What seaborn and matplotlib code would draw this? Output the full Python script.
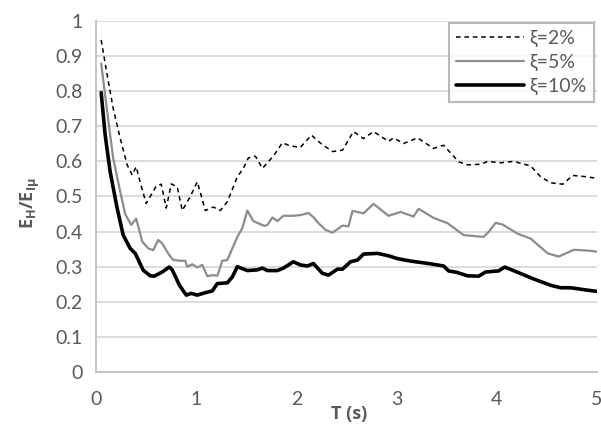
import pandas as pd
import matplotlib
matplotlib.use("Agg")
import matplotlib.pyplot as plt
import seaborn as sns

# xi = 2%
t_2 = [0.05, 0.11, 0.17, 0.24, 0.31, 0.36, 0.40, 0.44, 0.50, 0.60, 0.65, 0.70, 0.75, 0.81,
       0.86, 0.94, 1.01, 1.09, 1.17, 1.24, 1.31, 1.41, 1.47, 1.52, 1.59, 1.66, 1.77, 1.86,
       1.94, 2.04, 2.15, 2.24, 2.36, 2.46, 2.57, 2.67, 2.77, 2.92, 2.97, 3.07, 3.21, 3.37,
       3.47, 3.62, 3.71, 3.84, 3.91, 4.04, 4.17, 4.34, 4.44, 4.54, 4.66, 4.76, 4.87, 5.00]
v_2 = [0.946, 0.846, 0.751, 0.666, 0.59, 0.561, 0.585, 0.54, 0.48, 0.53, 0.535, 0.467, 0.536, 0.527,
       0.46, 0.50, 0.542, 0.46, 0.47, 0.46, 0.485, 0.556, 0.58, 0.61, 0.615, 0.58, 0.615, 0.653,
       0.644, 0.64, 0.675, 0.652, 0.628, 0.632, 0.685, 0.665, 0.685, 0.657, 0.667, 0.651, 0.667, 0.637,
       0.646, 0.599, 0.59, 0.592, 0.60, 0.596, 0.60, 0.587, 0.556, 0.539, 0.535, 0.56, 0.557, 0.552]

# xi = 5%
t_5 = [0.05, 0.11, 0.17, 0.24, 0.29, 0.35, 0.40, 0.46, 0.52, 0.57, 0.62, 0.66, 0.73, 0.77,
       0.84, 0.89, 0.91, 0.96, 1.01, 1.06, 1.11, 1.17, 1.21, 1.26, 1.31, 1.41, 1.46, 1.51,
       1.57, 1.68, 1.71, 1.76, 1.81, 1.87, 1.97, 2.04, 2.12, 2.17, 2.22, 2.29, 2.36, 2.46,
       2.52, 2.56, 2.67, 2.77, 2.92, 3.04, 3.17, 3.22, 3.37, 3.51, 3.67, 3.87, 3.92, 3.99,
       4.06, 4.21, 4.34, 4.51, 4.62, 4.77, 4.91, 5.00]
v_5 = [0.879, 0.742, 0.609, 0.514, 0.45, 0.419, 0.437, 0.372, 0.352, 0.347, 0.376, 0.366, 0.333, 0.319,
       0.317, 0.317, 0.30, 0.307, 0.298, 0.305, 0.273, 0.276, 0.274, 0.317, 0.319, 0.385, 0.41, 0.46,
       0.43, 0.416, 0.419, 0.44, 0.43, 0.445, 0.445, 0.447, 0.453, 0.441, 0.424, 0.405, 0.397, 0.417,
       0.415, 0.459, 0.452, 0.479, 0.445, 0.456, 0.443, 0.465, 0.439, 0.424, 0.39, 0.385, 0.399, 0.425,
       0.42, 0.394, 0.38, 0.338, 0.329, 0.348, 0.346, 0.343]

# xi = 10%
t_10 = [0.05, 0.09, 0.14, 0.21, 0.27, 0.34, 0.39, 0.47, 0.54, 0.58, 0.66, 0.73, 0.76, 0.83,
        0.90, 0.95, 1.01, 1.09, 1.16, 1.21, 1.31, 1.36, 1.41, 1.51, 1.61, 1.66, 1.71, 1.81,
        1.87, 1.97, 2.04, 2.11, 2.17, 2.26, 2.32, 2.41, 2.46, 2.54, 2.61, 2.67, 2.81, 2.92,
        3.01, 3.14, 3.32, 3.47, 3.52, 3.60, 3.71, 3.82, 3.89, 4.02, 4.08, 4.21, 4.37, 4.54,
        4.64, 4.74, 4.91, 5.00]
v_10 = [0.796, 0.675, 0.57, 0.466, 0.39, 0.352, 0.338, 0.29, 0.274, 0.273, 0.285, 0.299, 0.291, 0.248,
        0.219, 0.224, 0.219, 0.226, 0.231, 0.252, 0.254, 0.271, 0.30, 0.289, 0.291, 0.296, 0.289, 0.289,
        0.296, 0.314, 0.305, 0.302, 0.309, 0.281, 0.276, 0.293, 0.293, 0.314, 0.319, 0.336, 0.338, 0.331,
        0.323, 0.316, 0.309, 0.302, 0.288, 0.284, 0.274, 0.273, 0.285, 0.288, 0.299, 0.284, 0.265, 0.247,
        0.24, 0.24, 0.233, 0.23]

labels = ["ξ=2%", "ξ=5%", "ξ=10%"]
x_ticks = [0, 1, 2, 3, 4, 5]
y_ticks = [0, 0.1, 0.2, 0.3, 0.4, 0.5, 0.6, 0.7, 0.8, 0.9, 1]

sns.set_theme(style="white")
plt.rcParams["font.family"] = ["Lato", "DejaVu Sans"]
plt.rcParams["mathtext.fontset"] = "custom"
plt.rcParams["mathtext.rm"] = "Open Sans"
plt.rcParams["mathtext.bf"] = "Open Sans:bold"
plt.rcParams["mathtext.default"] = "bf"
plt.rcParams["mathtext.fallback"] = "stixsans"

txt = "#595959"
fig = plt.figure(figsize=(6.01, 4.25), dpi=100)
ax = fig.add_axes([0.16, 0.1247, 0.833, 0.8259])

sns.lineplot(x=t_2, y=v_2, ax=ax, color="black", lw=1.1, linestyle=(0, (3, 2.5)), label=labels[0])
sns.lineplot(x=t_5, y=v_5, ax=ax, color="#8c8c8c", lw=1.6, label=labels[1])
sns.lineplot(x=t_10, y=v_10, ax=ax, color="black", lw=2.6, label=labels[2])

ax.set_xlim(0, 5)
ax.set_ylim(0, 1)
ax.set_xticks(x_ticks)
ax.set_yticks(y_ticks)
ax.set_yticklabels(["0", "0.1", "0.2", "0.3", "0.4", "0.5", "0.6", "0.7", "0.8", "0.9", "1"])
ax.yaxis.grid(True, color="#d9d9d9", lw=1.3)
ax.set_axisbelow(True)
for s in ["top", "right"]:
    ax.spines[s].set_visible(False)
for s in ["left", "bottom"]:
    ax.spines[s].set_color("#bfbfbf")
    ax.spines[s].set_linewidth(1.3)
ax.tick_params(axis="both", length=0, labelsize=14, labelcolor=txt)
ax.tick_params(axis="x", pad=14)
ax.tick_params(axis="y", pad=10)

ax.set_xlabel("T (s)", fontsize=13, fontweight="bold", color=txt, family="Open Sans")
ax.xaxis.set_label_coords(0.505, -0.095)
ax.set_ylabel("E$_{H}$/E$_{Iμ}$", fontsize=13, fontweight="bold", color=txt, family="Open Sans")
ax.yaxis.set_label_coords(-0.108, 0.48)

leg = ax.legend(loc="upper right", bbox_to_anchor=(0.994, 0.994), fontsize=14, frameon=True,
                fancybox=False, edgecolor="#a6a6a6", handlelength=3.5, handletextpad=0.3,
                labelspacing=0.35, borderpad=0.35, borderaxespad=0)
leg.get_frame().set_linewidth(1.5)
for t in leg.get_texts():
    t.set_color(txt)

fig.savefig("out.png", dpi=100)
